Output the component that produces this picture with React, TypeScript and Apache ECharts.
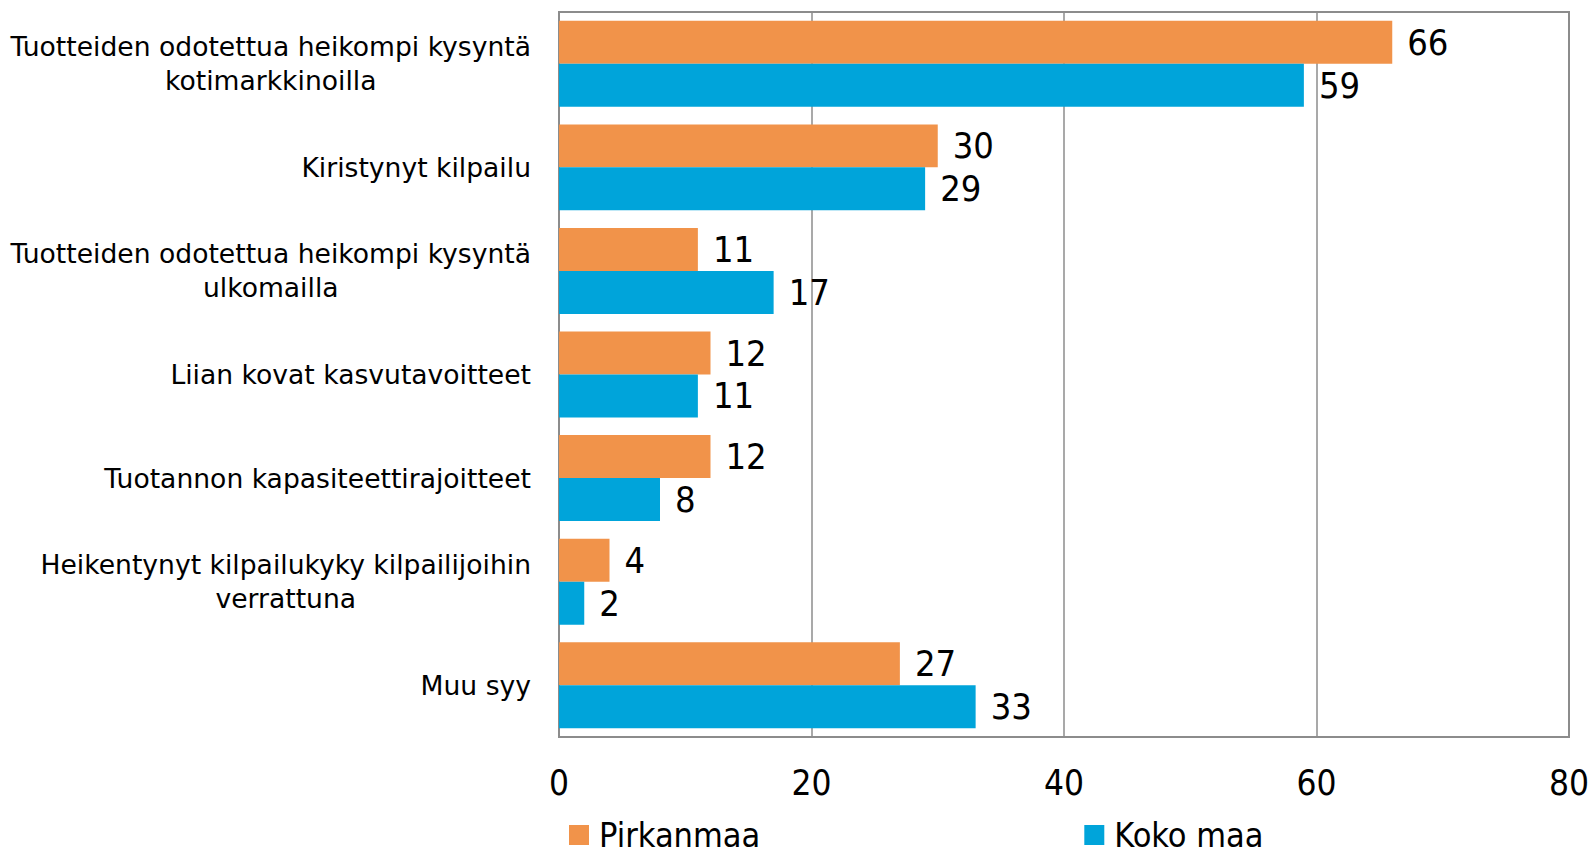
import React, { useEffect, useRef } from "react";
import * as echarts from "echarts";

const categories: string[] = [
  "Tuotteiden odotettua heikompi kysyntä\nkotimarkkinoilla",
  "Kiristynyt kilpailu",
  "Tuotteiden odotettua heikompi kysyntä\nulkomailla",
  "Liian kovat kasvutavoitteet",
  "Tuotannon kapasiteettirajoitteet",
  "Heikentynyt kilpailukyky kilpailijoihin\nverrattuna",
  "Muu syy",
];
const pirkanmaa: number[] = [66, 30, 11, 12, 12, 4, 27];
const kokoMaa: number[] = [59, 29, 17, 11, 8, 2, 33];
const seriesNames: string[] = ["Pirkanmaa", "Koko maa"];
const xTicks = { min: 0, max: 80, interval: 20 };

const NARROW = '"DejaVu Sans Condensed", sans-serif';
const LABELFONT = '"DejaVu Sans", sans-serif';

export default function App() {
  const ref = useRef<HTMLDivElement>(null);
  useEffect(() => {
    if (!ref.current) return;
    const chart = echarts.init(ref.current, null, { renderer: "svg" });
    const labelCommon = {
      show: true,
      position: "right" as const,
      distance: 15,
      color: "#000",
      fontSize: 36,
      fontFamily: NARROW,
    };
    chart.setOption({
      animation: false,
      backgroundColor: "#fff",
      grid: {
        left: 559,
        right: 21,
        top: 12,
        bottom: 118,
        show: true,
        borderColor: "#8c8c8c",
        borderWidth: 2,
        containLabel: false,
        outerBoundsMode: "none",
      },
      legend: {
        left: 569,
        top: 818,
        padding: 0,
        itemGap: 324,
        itemWidth: 20,
        itemHeight: 20,
        icon: "rect",
        textStyle: {
          fontSize: 34,
          fontFamily: NARROW,
          color: "#000",
          lineHeight: 32,
          padding: [0, 0, 0, 5],
        },
        data: seriesNames,
      },
      xAxis: {
        type: "value",
        min: xTicks.min,
        max: xTicks.max,
        interval: xTicks.interval,
        axisLine: { show: false },
        axisTick: { show: false },
        splitLine: { show: true, lineStyle: { color: "#8c8c8c", width: 1.5 } },
        axisLabel: {
          margin: 28,
          fontSize: 35,
          fontFamily: NARROW,
          color: "#000",
        },
      },
      yAxis: {
        type: "category",
        inverse: true,
        data: categories,
        axisLine: { show: true, lineStyle: { color: "#8c8c8c", width: 2 } },
        axisTick: { show: false },
        axisLabel: {
          margin: 28,
          color: "#000",
          fontSize: 26.6,
          fontFamily: LABELFONT,
          lineHeight: 34,
          formatter: (v: string) =>
            v
              .split("\n")
              .map((l) => `{c|${l}}`)
              .join("\n"),
          rich: {
            c: {
              align: "center",
              fontSize: 26.6,
              fontFamily: LABELFONT,
              lineHeight: 34,
              color: "#000",
            },
          },
        },
      },
      series: [
        {
          name: seriesNames[0],
          type: "bar",
          data: pirkanmaa,
          barGap: "0%",
          barCategoryGap: "17%",
          itemStyle: { color: "#F1934A" },
          label: labelCommon,
        },
        {
          name: seriesNames[1],
          type: "bar",
          data: kokoMaa,
          barGap: "0%",
          barCategoryGap: "17%",
          itemStyle: { color: "#00A4DA" },
          label: labelCommon,
        },
      ],
    });
    return () => chart.dispose();
  }, []);
  return (
    <div
      ref={ref}
      style={{ position: "fixed", left: 0, top: 0, width: 1590, height: 855 }}
    />
  );
}
